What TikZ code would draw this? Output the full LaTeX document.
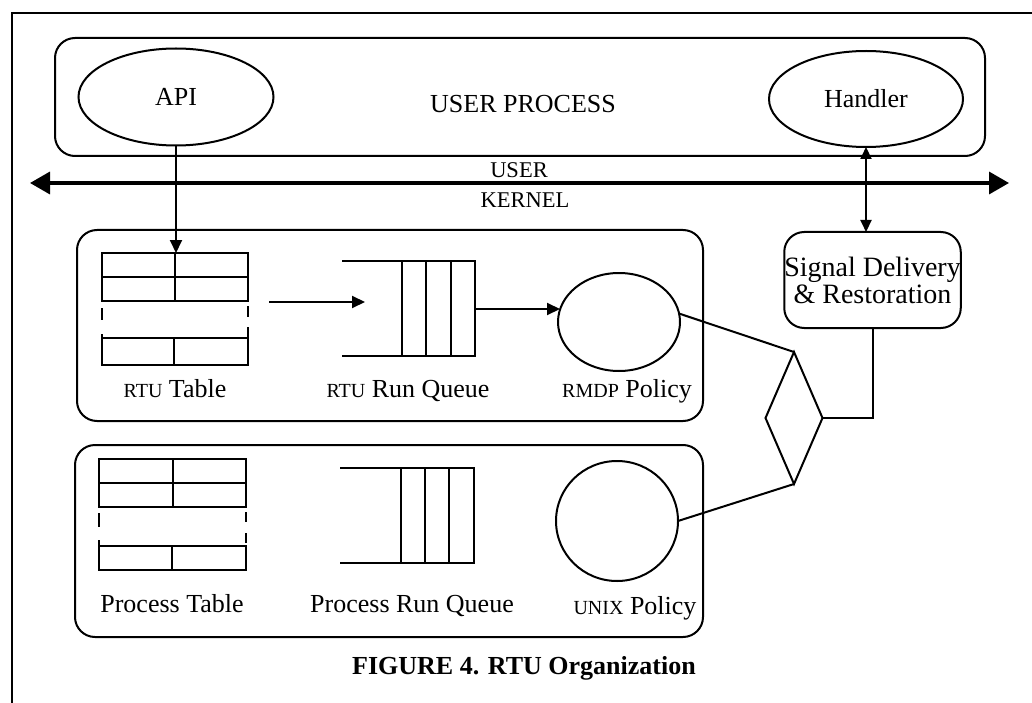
\documentclass[tikz,border=0pt]{standalone}
\usepackage{fontspec}
\setmainfont{Liberation Serif}
\usetikzlibrary{shapes.geometric,arrows.meta}
\newcommand\smc[1]{{\fontsize{20}{20}\selectfont #1}}
\begin{document}
\begin{tikzpicture}[x=1pt,y=-1pt,
  every node/.style={font=\fontsize{26}{30}\selectfont, inner sep=0pt, outer sep=0pt},
  box/.style={draw, line width=2pt, rounded corners=20pt},
  ell/.style={draw, ellipse, line width=2pt},
  ln/.style={line width=2pt},
  tbl/.style={line width=2.5pt},
  arr/.style={-{Triangle[length=13pt,width=12pt]}, line width=2pt},
  darr/.style={{Triangle[length=12pt,width=11pt]}-{Triangle[length=12pt,width=11pt]}, line width=2pt},
  lbl/.style={anchor=base},
]
\useasboundingbox (0,0) rectangle (1032,703);
% outer frame
\draw[line width=1.5pt] (12,703) -- (12,13) -- (1032,13);

% user process
\node[box, minimum width=930pt, minimum height=118pt] (up) at (520,97) {};
\node[lbl] (uptxt) at (523,113) {USER PROCESS};
\node[ell, minimum width=195pt, minimum height=97pt] (api) at (176,97) {API};
\node[ell, minimum width=194pt, minimum height=96pt] (hdl) at (866,99) {Handler};

% user/kernel line
\coordinate (bl) at (30,183);
\coordinate (br) at (1009,183);
\draw[{Triangle[length=20pt,width=22pt]}-{Triangle[length=20pt,width=22pt]}, line width=3.5pt] (bl) -- (br);
\node[lbl, font=\fontsize{22.5}{24}\selectfont] (usr) at (519,178) {USER};
\node[lbl, font=\fontsize{22.5}{24}\selectfont] (krn) at (525,208) {KERNEL};

% RTU box
\node[box, minimum width=626pt, minimum height=191pt] (rtubox) at (390,325.5) {};
% RTU table
\begin{scope}[shift={(102,253)}]
  \coordinate (rtutop) at (73,0);
  \coordinate (rtuout) at (167,49);
  \draw[tbl] (0,0) rectangle (146,48);
  \draw[tbl] (0,24) -- (146,24);
  \draw[tbl] (73,0) -- (73,48);
  \draw[tbl] (0,85) rectangle (146,112);
  \draw[tbl] (72,85) -- (72,112);
  \draw[tbl] (0,55) -- (0,67) (0,81) -- (0,85) (146,53) -- (146,64) (146,74) -- (146,85);
\end{scope}
% RTU queue
\begin{scope}[shift={(342,261)}]
  \coordinate (rqin) at (23,49);
  \coordinate (rqout) at (133,48);
  \draw[ln] (0,0) -- (133,0) -- (133,95) -- (0,95);
  \draw[ln] (60,0) -- (60,95) (84,0) -- (84,95) (109,0) -- (109,95);
\end{scope}
\node[ell, minimum width=122pt, minimum height=98pt] (rmdp) at (619,322) {};
\node[lbl] (l1) at (175,397) {\smc{RTU} Table};
\node[lbl] (l2) at (408,397) {\smc{RTU} Run Queue};
\node[lbl] (l3) at (627,397) {\smc{RMDP} Policy};

% Process box
\node[box, minimum width=628pt, minimum height=192pt] (procbox) at (389,541) {};
\begin{scope}[shift={(99,459)}]
  \draw[tbl] (0,0) rectangle (147,48);
  \draw[tbl] (0,24) -- (147,24);
  \draw[tbl] (74,0) -- (74,48);
  \draw[tbl] (0,87) rectangle (147,111);
  \draw[tbl] (73,87) -- (73,111);
  \draw[tbl] (0,54) -- (0,68) (0,81) -- (0,87) (147,53) -- (147,63) (147,74) -- (147,84);
\end{scope}
\begin{scope}[shift={(340,468)}]
  \draw[ln] (0,0) -- (134,0) -- (134,95) -- (0,95);
  \draw[ln] (61,0) -- (61,95) (85,0) -- (85,95) (109,0) -- (109,95);
\end{scope}
\node[ell, minimum width=122pt, minimum height=120pt] (unix) at (617,521) {};
\node[lbl] (l4) at (172,612) {Process Table};
\node[lbl] (l5) at (412,612) {Process Run Queue};
\node[lbl] (l6) at (635,614) {\smc{UNIX} Policy};

% signal box and diamond
\node[box, minimum width=171pt, minimum height=96pt, align=center, font=\fontsize{28}{27}\selectfont] (sig) at (872.5,280) {Signal Delivery\\\& Restoration};
\node[draw, diamond, line width=2pt, minimum width=57pt, minimum height=132pt] (dia) at (794,418) {};

% connectors
\draw[arr] (api.south) -- (api.south |- rtutop);
\draw[arr] (rtuout) -- (rtuout -| rqin);
\draw[arr] (rqout) -- ([xshift=2pt]rqout -| rmdp.west);
\draw[darr] (hdl.south) -- (hdl.south |- sig.north);
\draw[ln] (rmdp.8) -- (dia.north);
\draw[ln] (unix.east) -- (dia.south);
\draw[ln] (dia.east) -| (sig.south);

% caption
\node[lbl, font=\bfseries\fontsize{26}{30}\selectfont] (cap) at (524,674) {FIGURE 4. RTU Organization};
\end{tikzpicture}
\end{document}
